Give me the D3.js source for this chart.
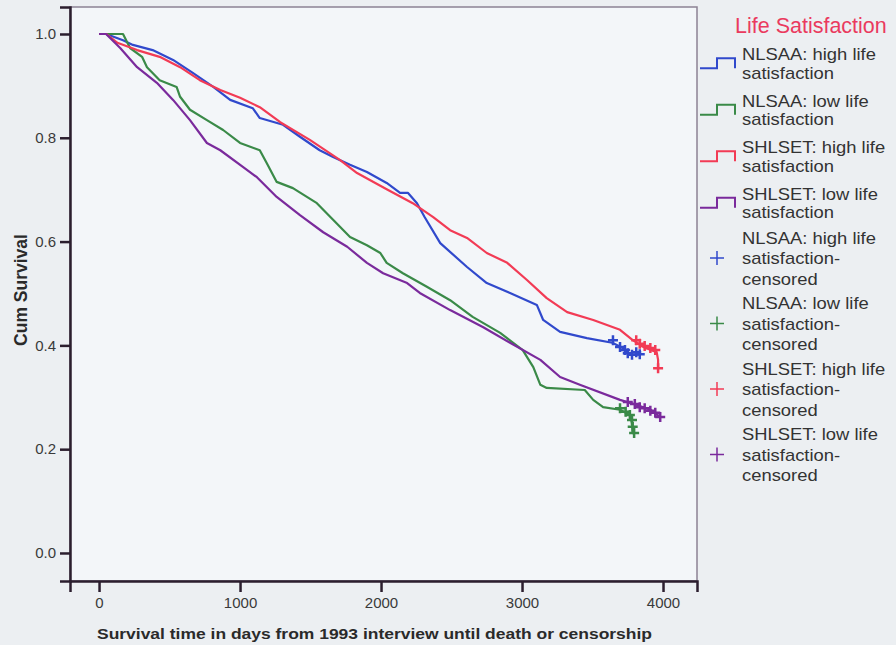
<!DOCTYPE html>
<html>
<head>
<meta charset="utf-8">
<script src="https://cdn.jsdelivr.net/npm/d3@7"></script>
<style>
  body { margin: 0; background: #eceff2; }
  svg { display: block; font-family: "Liberation Sans", Arial, sans-serif; }
</style>
</head>
<body>
<div id="chart"></div>
<script>
// Kaplan-Meier curves, values: [days, cum survival]
const nlsaaHigh = [[0,1],[50,1],[170,0.988],[240,0.979],[380,0.969],[525,0.95],[665,0.925],[810,0.898],[930,0.873],
  [1090,0.857],[1140,0.838],[1305,0.825],[1425,0.802],[1565,0.776],[1660,0.763],[1780,0.748],[1900,0.734],
  [2040,0.713],[2135,0.694],[2190,0.694],[2255,0.674],[2310,0.647],[2420,0.597],[2610,0.551],[2750,0.52],[2915,0.501],
  [3105,0.478],[3150,0.449],[3270,0.426],[3460,0.414],[3640,0.405],[3715,0.395],[3765,0.382],[3835,0.382]];
const nlsaaLow = [[0,1],[50,1],[170,1],[220,0.973],[305,0.956],[340,0.936],[430,0.911],[550,0.898],[575,0.879],[645,0.854],
  [765,0.834],[880,0.815],[1000,0.79],[1140,0.776],[1190,0.751],[1260,0.715],[1375,0.703],[1545,0.674],
  [1660,0.642],[1780,0.609],[1900,0.593],[1995,0.578],[2040,0.559],[2155,0.539],[2325,0.513],[2490,0.487],
  [2650,0.455],[2845,0.424],[3005,0.391],[3080,0.358],[3130,0.324],[3175,0.318],[3445,0.314],[3505,0.295],
  [3575,0.281],[3695,0.276],[3765,0.266],[3780,0.25],[3785,0.231],[3795,0.231]];
const shlsetHigh = [[0,1],[50,1],[130,0.983],[270,0.969],[430,0.956],[575,0.936],[715,0.911],[860,0.892],[1000,0.877],
  [1140,0.859],[1285,0.83],[1495,0.796],[1710,0.757],[1830,0.732],[2040,0.701],[2225,0.674],[2370,0.647],
  [2490,0.622],[2610,0.607],[2750,0.578],[2895,0.559],[3035,0.526],[3175,0.491],[3320,0.464],[3505,0.449],
  [3695,0.43],[3785,0.41],[3860,0.397],[3955,0.387],[3965,0.372],[3965,0.356]];
const shlsetLow = [[0,1],[50,1],[150,0.973],[270,0.936],[410,0.906],[525,0.873],[645,0.834],[765,0.79],[860,0.776],
  [1020,0.744],[1120,0.724],[1260,0.686],[1425,0.651],[1590,0.618],[1760,0.59],[1900,0.559],[2015,0.539],
  [2185,0.52],[2275,0.501],[2490,0.468],[2725,0.435],[2915,0.405],[3130,0.372],[3270,0.339],[3410,0.324],
  [3695,0.295],[3815,0.285],[3910,0.276],[3980,0.262],[3990,0.262]];

// censored cases
const nlsaaHighCens = [[3645,0.41],[3695,0.397],[3730,0.391],[3750,0.385],[3780,0.382],[3810,0.387],[3835,0.383]];
const nlsaaLowCens = [[3695,0.279],[3735,0.272],[3765,0.266],[3780,0.256],[3785,0.243],[3795,0.231]];
const shlsetHighCens = [[3810,0.41],[3835,0.403],[3870,0.399],[3910,0.395],[3945,0.391],[3965,0.356]];
const shlsetLowCens = [[3750,0.291],[3800,0.287],[3835,0.281],[3870,0.279],[3910,0.274],[3945,0.27],[3980,0.262]];

const xTicks = [0, 1000, 2000, 3000, 4000];
const yTicks = [0, 0.2, 0.4, 0.6, 0.8, 1.0];

const legendTitle = "Life Satisfaction";
const legendLabels = [
  ["NLSAA: high life", "satisfaction"],
  ["NLSAA: low life", "satisfaction"],
  ["SHLSET: high life", "satisfaction"],
  ["SHLSET: low life", "satisfaction"],
  ["NLSAA: high life", "satisfaction-", "censored"],
  ["NLSAA: low life", "satisfaction-", "censored"],
  ["SHLSET: high life", "satisfaction-", "censored"],
  ["SHLSET: low life", "satisfaction-", "censored"]
];

const colors = ["#3049cc", "#3a8a48", "#f23b55", "#7a2a9c"];

const width = 896;
const height = 645;
const plot = { left: 70, right: 697, top: 7, bottom: 581 };

const svg = d3.select("#chart")
  .append("svg")
  .attr("width", width)
  .attr("height", height);

svg.append("rect").attr("width", width).attr("height", height).attr("fill", "#eceff2");

const x = d3.scaleLinear().domain([-206, 4241]).range([plot.left, plot.right]);
const y = d3.scaleLinear().domain([-0.054, 1.052]).range([plot.bottom, plot.top]);

// plot background + frame
svg.append("rect")
  .attr("x", plot.left).attr("y", plot.top)
  .attr("width", plot.right - plot.left).attr("height", plot.bottom - plot.top)
  .attr("fill", "#f3f6f9")
  .attr("stroke", "#8c8294").attr("stroke-width", 1.5);

// axes
const yAxis = d3.axisLeft(y).tickValues(yTicks).tickFormat(d3.format(".1f")).tickSize(10).tickPadding(4);
const xAxis = d3.axisBottom(x).tickValues(xTicks).tickFormat(d3.format("d")).tickSize(11).tickPadding(5);

const gy = svg.append("g").attr("transform", `translate(${plot.left},0)`).call(yAxis);
const gx = svg.append("g").attr("transform", `translate(0,${plot.bottom})`).call(xAxis);

[gx, gy].forEach(g => {
  g.attr("font-family", null).attr("font-size", 15);
  g.select(".domain").attr("stroke", "#2b1e2e").attr("stroke-width", 2.5);
  g.selectAll(".tick line").attr("stroke", "#2b1e2e").attr("stroke-width", 2.5);
  g.selectAll(".tick text").attr("fill", "#3a3a3a");
});

svg.append("text")
  .attr("transform", "translate(27,290) rotate(-90)")
  .attr("text-anchor", "middle")
  .attr("font-size", 17.5).attr("font-weight", "bold").attr("fill", "#2a2a2a")
  .text("Cum Survival");

svg.append("text")
  .attr("x", 97).attr("y", 639)
  .attr("textLength", 555).attr("lengthAdjust", "spacingAndGlyphs")
  .attr("font-size", 15).attr("font-weight", "bold").attr("fill", "#2a2a2a")
  .text("Survival time in days from 1993 interview until death or censorship");

// curves
const line = d3.line()
  .x(d => x(d[0]))
  .y(d => y(d[1]))
  .curve(d3.curveLinear);

const curves = [nlsaaHigh, nlsaaLow, shlsetHigh, shlsetLow];
const censored = [nlsaaHighCens, nlsaaLowCens, shlsetHighCens, shlsetLowCens];

svg.append("g")
  .selectAll("path")
  .data(curves)
  .join("path")
  .attr("d", line)
  .attr("fill", "none")
  .attr("stroke", (d, i) => colors[i])
  .attr("stroke-width", 2.2)
  .attr("stroke-linejoin", "round");

const plus = "M-5,0H5M0,-5V5";
censored.forEach((pts, i) => {
  svg.append("g")
    .selectAll("path")
    .data(pts)
    .join("path")
    .attr("transform", d => `translate(${x(d[0])},${y(d[1])})`)
    .attr("d", plus)
    .attr("stroke", colors[i])
    .attr("stroke-width", 2.5);
});

// legend
const legend = svg.append("g");
legend.append("text")
  .attr("x", 735).attr("y", 33)
  .attr("font-size", 21.5).attr("fill", "#ea3a5e")
  .text(legendTitle);

// text in the scan is a bit stretched sideways
let legendY = 54;
legendLabels.forEach((lines, i) => {
  const c = colors[i % 4];
  const lineH = i < 4 ? 18.5 : 20.5;
  const gi = legend.append("g");
  lines.forEach((t, j) => {
    gi.append("text")
      .attr("transform", `translate(742,${legendY + j * lineH + 6}) scale(1.15,1)`)
      .attr("font-size", 16).attr("fill", "#333")
      .text(t);
  });
  if (i < 4) {
    const mid = legendY + lineH / 2;
    gi.append("path")
      .attr("d", `M700,${mid + 5}H717V${mid - 5}H735V${mid + 5}`)
      .attr("fill", "none").attr("stroke", c).attr("stroke-width", 2);
    legendY += i < 3 ? 46.5 : 44;
  } else {
    const mid = legendY + lineH;
    gi.append("path")
      .attr("d", "M-7,0H7M0,-7V7")
      .attr("transform", `translate(717,${mid})`)
      .attr("stroke", c).attr("stroke-width", 1.5);
    legendY += 65.5;
  }
});
</script>
</body>
</html>
